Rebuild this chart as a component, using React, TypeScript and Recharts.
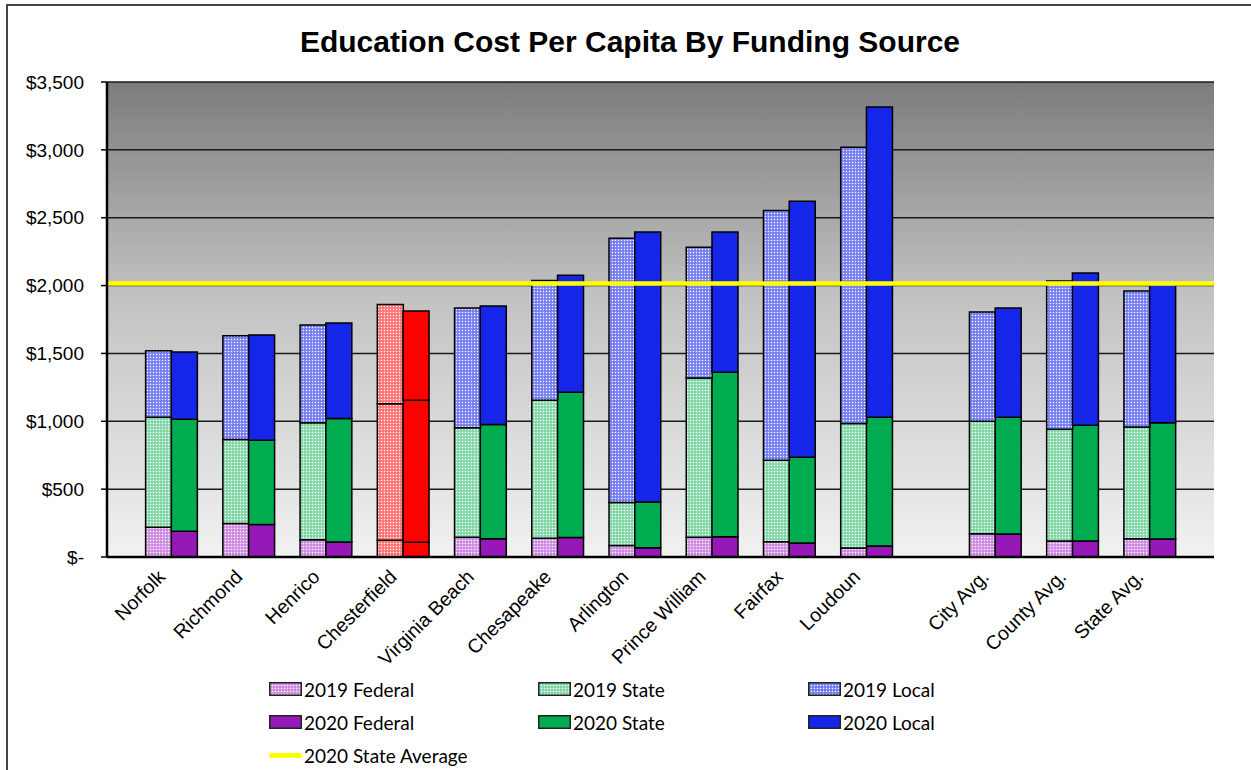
import React from 'react';
import { BarChart, Bar, XAxis, YAxis, CartesianGrid, ReferenceLine, Cell } from 'recharts';

// ---------------- data ----------------
const locations = [
  'Norfolk', 'Richmond', 'Henrico', 'Chesterfield', 'Virginia Beach', 'Chesapeake',
  'Arlington', 'Prince William', 'Fairfax', 'Loudoun', 'City Avg.', 'County Avg.', 'State Avg.',
];
const federal2019 = [220, 246, 128, 123, 145, 138, 84, 145, 113, 66, 172, 118, 135];
const state2019 = [810, 619, 862, 1007, 808, 1017, 317, 1174, 600, 917, 828, 823, 823];
const local2019 = [490, 766, 720, 730, 882, 882, 1948, 963, 1840, 2036, 805, 1093, 1002];
const federal2020 = [190, 239, 111, 108, 135, 143, 69, 150, 103, 81, 170, 118, 133];
const state2020 = [825, 621, 909, 1047, 841, 1071, 336, 1211, 632, 948, 859, 852, 857];
const local2020 = [495, 776, 704, 658, 874, 862, 1990, 1034, 1886, 2287, 806, 1123, 1025];
const stateAverage2020 = 2015;
const highlighted = 'Chesterfield';
const wideGapAfter = 'Loudoun';
const yTicks = [0, 500, 1000, 1500, 2000, 2500, 3000, 3500];
const legendLabels = [
  ['2019 Federal', '2019 State', '2019 Local'],
  ['2020 Federal', '2020 State', '2020 Local'],
];
const lineLegendLabel = '2020 State Average';
const title = 'Education Cost Per Capita By Funding Source';

// ---------------- layout / styles ----------------
const W = 1251;
const H = 770;
const PLOT_LEFT = 107;
const PLOT_RIGHT = 1214;
const PLOT_TOP = 82;
const PLOT_BOTTOM = 557;
const Y_AXIS_W = 100;
const X_AXIS_H = 60;

type Row = {
  key: string;
  label?: string;
  year?: number;
  hl?: boolean;
  fed?: number;
  st?: number;
  lo?: number;
};

const rows: Row[] = [];
locations.forEach((loc, i) => {
  const hl = loc === highlighted;
  rows.push({ key: loc + ' 2019', label: loc, year: 2019, hl, fed: federal2019[i], st: state2019[i], lo: local2019[i] });
  rows.push({ key: loc + ' 2020', label: loc, year: 2020, hl, fed: federal2020[i], st: state2020[i], lo: local2020[i] });
  if (i < locations.length - 1) {
    const n = loc === wideGapAfter ? 3 : 1;
    for (let k = 0; k < n; k++) rows.push({ key: `gap-${i}-${k}` });
  }
});
const rowByKey: Record<string, Row> = {};
rows.forEach((r) => (rowByKey[r.key] = r));

const UNITS = rows.length + 3;
const UNIT = (PLOT_RIGHT - PLOT_LEFT) / UNITS;
const SIDE_PAD = UNIT * 1.5;

const solid = { fed: '#9618B6', st: '#00AC4F', lo: '#1626E8', hl: '#FF0000' };
const patTint = { fed: '#D9A2E6', st: '#9CDFB9', lo: '#8B92F2', hl: '#FF8C8C' };
const patDot = { fed: '#B448D2', st: '#2DBF6E', lo: '#3341EC', hl: '#FF2A2A' };

const fillFor = (r: Row, part: 'fed' | 'st' | 'lo') => {
  if (r.year === 2019) return r.hl ? 'url(#pat-hl)' : `url(#pat-${part})`;
  return r.hl ? solid.hl : solid[part];
};

const AXIS_FONT = '"Liberation Sans", Arial, sans-serif';

const yFmt = (v: number) => (v === 0 ? '$-' : '$' + v.toLocaleString('en-US'));

const XTick = (props: any) => {
  const { x, y, payload } = props;
  const r = rowByKey[payload?.value];
  if (!r || r.year !== 2019) return <g />;
  const half = payload && payload.offset > 0 ? payload.offset : UNIT / 2;
  const ax = x + half - 5;
  const ay = y + 21;
  return (
    <text
      x={ax}
      y={ay}
      transform={`rotate(-45 ${ax} ${ay})`}
      textAnchor="end"
      fontFamily={AXIS_FONT}
      fontSize={19.5}
      fill="#000"
    >
      {r.label}
    </text>
  );
};

const Pattern = ({ id, tint, dot }: { id: string; tint: string; dot: string }) => (
  <pattern id={id} patternUnits="userSpaceOnUse" width={3} height={3}>
    <rect x={0} y={0} width={3} height={3} fill={tint} />
    <rect x={0} y={0} width={1} height={1} fill="#ffffff" />
    <rect x={1.5} y={1.5} width={1} height={1} fill={dot} />
  </pattern>
);

const legendCols = [269, 538, 808];
const legendRows = [689, 722, 755];
const legendParts: ('fed' | 'st' | 'lo')[] = ['fed', 'st', 'lo'];

const Swatch = ({ fill }: { fill: string }) => (
  <svg width={33} height={14} style={{ display: 'block' }}>
    <rect x={0.75} y={0.75} width={31.5} height={12.5} fill={fill} stroke="#222" strokeWidth={1.5} />
  </svg>
);

export default function App() {
  return (
    <div style={{ position: 'absolute', left: 0, top: 0, width: W, height: H, overflow: 'hidden', background: '#fff' }}>
      <svg width={0} height={0} style={{ position: 'absolute' }}>
        <defs>
          <linearGradient id="bgGrad" x1="0" y1="0" x2="0" y2="1">
            <stop offset="0" stopColor="#7c7c7c" />
            <stop offset="0.45" stopColor="#c2c2c2" />
            <stop offset="1" stopColor="#f1f1f1" />
          </linearGradient>
          <Pattern id="pat-fed" tint={patTint.fed} dot={patDot.fed} />
          <Pattern id="pat-st" tint={patTint.st} dot={patDot.st} />
          <Pattern id="pat-lo" tint={patTint.lo} dot={patDot.lo} />
          <Pattern id="pat-hl" tint={patTint.hl} dot={patDot.hl} />
        </defs>
      </svg>

      {/* outer frame */}
      <div style={{ position: 'absolute', left: 6, top: 4, width: 2000, height: 2000, borderLeft: '2px solid #444', borderTop: '2px solid #444' }} />

      {/* title */}
      <div
        style={{
          position: 'absolute', left: 0, top: 27, width: 1260, textAlign: 'center',
          fontFamily: AXIS_FONT, fontWeight: 'bold', fontSize: 30, lineHeight: '30px', color: '#000',
        }}
      >
        {title}
      </div>

      <div style={{ position: 'absolute', left: 0, top: 0 }}>
        <BarChart
          width={W}
          height={H}
          data={rows}
          margin={{ top: PLOT_TOP, right: W - PLOT_RIGHT, bottom: H - PLOT_BOTTOM - X_AXIS_H, left: PLOT_LEFT - Y_AXIS_W }}
          barCategoryGap={0}
          barGap={0}
        >
          <CartesianGrid vertical={false} horizontal fill="url(#bgGrad)" fillOpacity={1} stroke="#1a1a1a" strokeWidth={1.5} />
          <XAxis
            dataKey="key"
            type="category"
            interval={0}
            height={X_AXIS_H}
            padding={{ left: SIDE_PAD, right: SIDE_PAD }}
            tickLine={false}
            tickSize={0}
            tickMargin={0}
            axisLine={{ stroke: '#000', strokeWidth: 2.5 }}
            tick={<XTick />}
          />
          <YAxis
            width={Y_AXIS_W}
            domain={[0, 3500]}
            ticks={yTicks}
            interval={0}
            tickFormatter={yFmt}
            tickSize={6}
            tickMargin={17}
            tickLine={{ stroke: '#000', strokeWidth: 1.5 }}
            axisLine={{ stroke: '#000', strokeWidth: 2.5 }}
            tick={{ fill: '#000', fontFamily: AXIS_FONT, fontSize: 19 }}
          />
          <YAxis
            yAxisId="right"
            orientation="right"
            width={0}
            domain={[0, 3500]}
            tick={false}
            tickLine={false}
            axisLine={{ stroke: '#000', strokeWidth: 2 }}
          />
          <Bar dataKey="fed" stackId="s" stroke="#000" strokeWidth={1.5} isAnimationActive={false}>
            {rows.map((r, i) => (
              <Cell key={i} fill={fillFor(r, 'fed')} />
            ))}
          </Bar>
          <Bar dataKey="st" stackId="s" stroke="#000" strokeWidth={1.5} isAnimationActive={false}>
            {rows.map((r, i) => (
              <Cell key={i} fill={fillFor(r, 'st')} />
            ))}
          </Bar>
          <Bar dataKey="lo" stackId="s" stroke="#000" strokeWidth={1.5} isAnimationActive={false}>
            {rows.map((r, i) => (
              <Cell key={i} fill={fillFor(r, 'lo')} />
            ))}
          </Bar>
          <ReferenceLine y={stateAverage2020} stroke="#FFFF00" strokeWidth={4.5} ifOverflow="extendDomain" />
        </BarChart>
      </div>

      {/* legend */}
      {legendLabels.map((rowLabels, ri) =>
        rowLabels.map((lab, ci) => (
          <div
            key={lab}
            style={{
              position: 'absolute', left: legendCols[ci], top: legendRows[ri] - 11, height: 22,
              display: 'flex', alignItems: 'center', gap: 2,
              fontFamily: 'Lato, "Open Sans", sans-serif', fontSize: 19, color: '#000', whiteSpace: 'nowrap',
            }}
          >
            <Swatch fill={ri === 0 ? `url(#pat-${legendParts[ci]})` : solid[legendParts[ci]]} />
            <span>{lab}</span>
          </div>
        ))
      )}
      <div
        style={{
          position: 'absolute', left: legendCols[0], top: legendRows[2] - 11, height: 22,
          display: 'flex', alignItems: 'center', gap: 2,
          fontFamily: 'Lato, "Open Sans", sans-serif', fontSize: 19, color: '#000', whiteSpace: 'nowrap',
        }}
      >
        <div style={{ width: 33, height: 5, background: '#FFFF00', borderRadius: 2 }} />
        <span>{lineLegendLabel}</span>
      </div>
    </div>
  );
}
